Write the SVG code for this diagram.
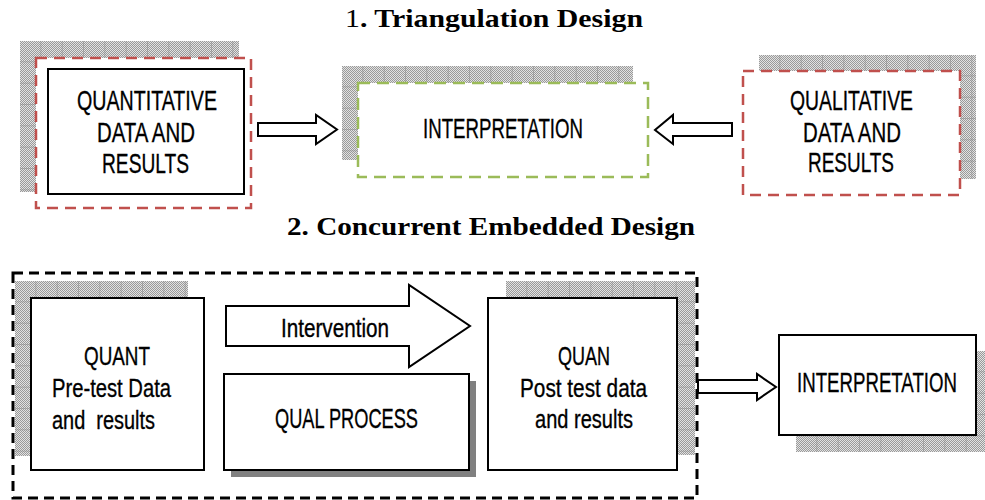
<svg xmlns="http://www.w3.org/2000/svg" width="985" height="500" viewBox="0 0 985 500">
  <defs>
    <!-- fine stipple used by the textured drop shadows -->
    <pattern id="stipple" width="2" height="2" patternUnits="userSpaceOnUse">
      <rect width="2" height="2" fill="#e2e2e2"/>
      <rect width="1" height="1" fill="#9a9a9a"/>
      <rect x="1" y="1" width="1" height="1" fill="#9a9a9a"/>
    </pattern>
    <!-- tile grid drawn over the stipple -->
    <pattern id="tiles" width="21.33" height="21.33" patternUnits="userSpaceOnUse">
      <path d="M21.33 0V21.33M0 21.33H21.33" stroke="#8a8a8a" stroke-width="1" fill="none"/>
    </pattern>
  </defs>
  <style>
    .title { font-family: "Liberation Serif", "Times New Roman", serif; font-size: 26px; fill: #000; }
    .label { font-family: "Liberation Sans Narrow", "Liberation Sans", Arial, sans-serif; fill: #000; stroke: #000; stroke-width: 0.35; }
    .l26 { font-size: 28px; }
    .l24 { font-size: 26px; }
    .l23 { font-size: 25px; }
    .box { fill: #fff; stroke: #000; stroke-width: 2; }
    .red { fill: #fff; stroke: #c0504d; stroke-width: 2.5; stroke-dasharray: 11 7; }
    .green { fill: #fff; stroke: #9bbb59; stroke-width: 2.5; stroke-dasharray: 12 7; }
    .frame { fill: none; stroke: #000; stroke-width: 3; stroke-dasharray: 10 6; }
    .arrow { fill: #fff; stroke: #000; stroke-width: 2; stroke-linejoin: miter; }
    .st { fill: url(#stipple); }
    .gr { fill: url(#tiles); }
  </style>

  <rect width="985" height="500" fill="#fff"/>

  <!-- headings -->
  <text class="title" x="345" y="27" textLength="298" lengthAdjust="spacingAndGlyphs">1<tspan font-weight="bold">. Triangulation Design</tspan></text>
  <text class="title" x="287" y="235" font-weight="bold" textLength="408" lengthAdjust="spacingAndGlyphs">2. Concurrent Embedded Design</text>

  <!-- 1. Triangulation design -->
  <g id="quantitative-data">
    <g transform="translate(20,41)">
      <rect class="st" width="219" height="151"/>
      <rect class="gr" width="219" height="151"/>
    </g>
    <rect class="red" x="36" y="58" width="215" height="150"/>
    <rect class="box" x="48" y="69" width="196" height="125"/>
    <text class="label l26" x="77" y="110" textLength="140" lengthAdjust="spacingAndGlyphs">QUANTITATIVE</text>
    <text class="label l26" x="97" y="142" textLength="98" lengthAdjust="spacingAndGlyphs">DATA AND</text>
    <text class="label l26" x="102" y="173" textLength="87" lengthAdjust="spacingAndGlyphs">RESULTS</text>
  </g>

  <g id="interpretation-1">
    <g transform="translate(342,66)">
      <rect class="st" width="291" height="94"/>
      <rect class="gr" width="291" height="94"/>
    </g>
    <rect class="green" x="358" y="83" width="290" height="94"/>
    <text class="label l26" x="423" y="138" textLength="160" lengthAdjust="spacingAndGlyphs">INTERPRETATION</text>
  </g>

  <g id="qualitative-data">
    <g transform="translate(759,55)">
      <rect class="st" width="217" height="124"/>
      <rect class="gr" width="217" height="124"/>
    </g>
    <rect class="red" x="743" y="71" width="217" height="124"/>
    <text class="label l26" x="790" y="110" textLength="123" lengthAdjust="spacingAndGlyphs">QUALITATIVE</text>
    <text class="label l26" x="803" y="142" textLength="98" lengthAdjust="spacingAndGlyphs">DATA AND</text>
    <text class="label l26" x="808" y="172" textLength="86" lengthAdjust="spacingAndGlyphs">RESULTS</text>
  </g>

  <!-- 2. Concurrent embedded design -->
  <g id="embedded-frame">
    <rect class="frame" x="13" y="273" width="684" height="225"/>
  </g>

  <g id="quant-pretest">
    <g transform="translate(15,281)">
      <rect class="st" width="173" height="175"/>
      <rect class="gr" width="173" height="175"/>
    </g>
    <rect class="box" x="31" y="298" width="173" height="172"/>
    <text class="label l24" x="84" y="365" textLength="66" lengthAdjust="spacingAndGlyphs">QUANT</text>
    <text class="label l24" x="52" y="397" textLength="119" lengthAdjust="spacingAndGlyphs">Pre-test Data</text>
    <text class="label l24" x="52" y="429" textLength="103" lengthAdjust="spacingAndGlyphs" style="white-space:pre">and  results</text>
  </g>

  <g id="qual-process">
    <rect x="231" y="381" width="245" height="96" fill="#808080"/>
    <rect class="box" x="224" y="374" width="245" height="96"/>
    <text class="label l26" x="275" y="428" textLength="143" lengthAdjust="spacingAndGlyphs">QUAL PROCESS</text>
  </g>

  <g id="quan-posttest">
    <g transform="translate(506,281)">
      <rect class="st" width="189" height="174"/>
      <rect class="gr" width="189" height="174"/>
    </g>
    <rect class="box" x="488" y="298" width="189" height="172"/>
    <text class="label l24" x="558" y="365" textLength="52" lengthAdjust="spacingAndGlyphs">QUAN</text>
    <text class="label l24" x="520" y="397" textLength="127" lengthAdjust="spacingAndGlyphs">Post test data</text>
    <text class="label l24" x="535" y="428" textLength="98" lengthAdjust="spacingAndGlyphs">and results</text>
  </g>

  <g id="interpretation-2">
    <g transform="translate(796,351)">
      <rect class="st" width="195" height="101"/>
      <rect class="gr" width="195" height="101"/>
    </g>
    <rect class="box" x="779" y="335" width="197" height="100"/>
    <text class="label l26" x="797" y="392" textLength="160" lengthAdjust="spacingAndGlyphs">INTERPRETATION</text>
  </g>

  <!-- block arrows -->
  <g id="connectors">
    <polygon class="arrow" points="258,123 316,123 316,115 337,129.5 316,144 316,136 258,136"/>
    <polygon class="arrow" points="732,123 673,123 673,115 655,130 673,144 673,136 732,136"/>
    <g id="intervention">
      <polygon class="arrow" points="226,306 409,306 409,285 470,326 409,367 409,346 226,346"/>
      <text class="label l23" x="281" y="337" textLength="108" lengthAdjust="spacingAndGlyphs">Intervention</text>
    </g>
    <polygon class="arrow" points="698,380 757,380 757,374 776,387 757,400 757,393 698,393"/>
  </g>
</svg>
